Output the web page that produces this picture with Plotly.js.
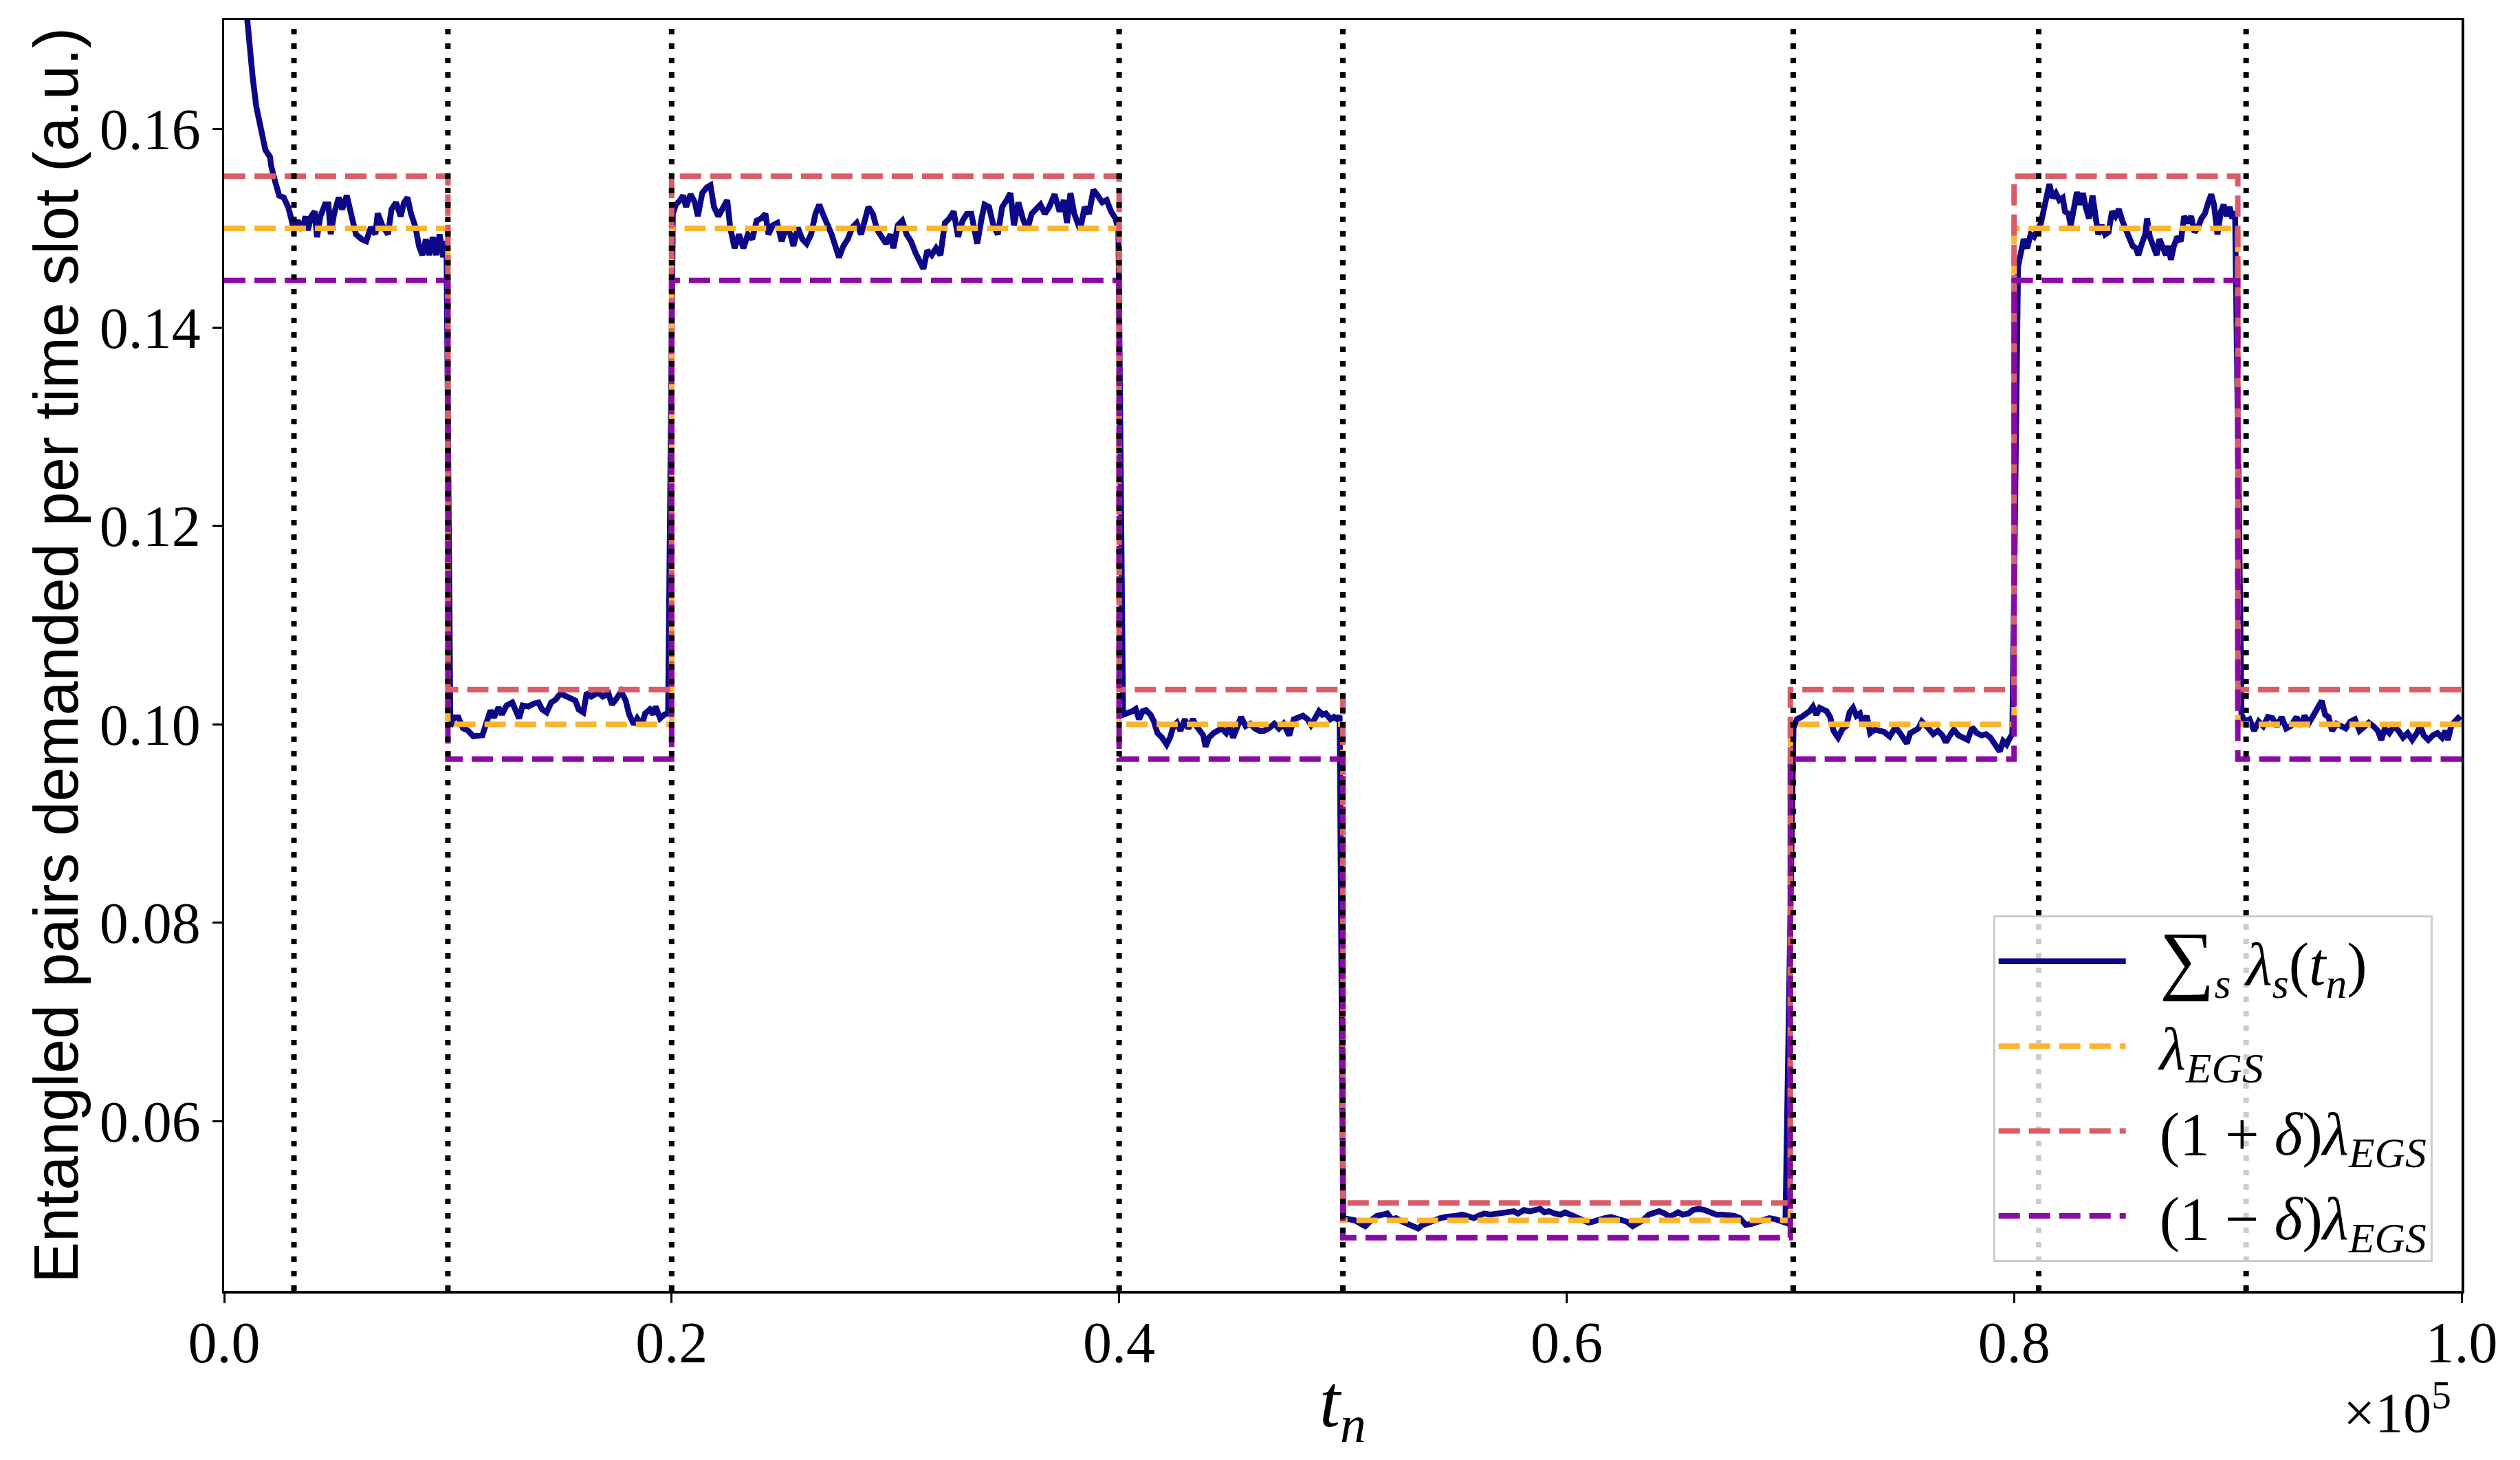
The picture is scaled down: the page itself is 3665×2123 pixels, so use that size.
<!DOCTYPE html>
<html>
<head>
<meta charset="utf-8">
<script src="https://cdn.plot.ly/plotly-3.0.1.min.js"></script>
<style>
  html, body { margin: 0; padding: 0; background: #fff; }
  #myPlot { width: 3665px; height: 2123px; }
</style>
</head>
<body>
<div id="myPlot"></div>
<script>
// segment edges (time slots) and demand levels per segment
const segEdges = [0, 10000, 20000, 40000, 50000, 70000, 80000, 90000, 100000];
const lambdaEGS = [0.15, 0.10, 0.15, 0.10, 0.05, 0.10, 0.15, 0.10, 0.10];
const lambdaUpper = [0.15525, 0.1035, 0.15525, 0.1035, 0.05175, 0.1035, 0.15525, 0.1035, 0.1035];
const lambdaLower = [0.14475, 0.0965, 0.14475, 0.0965, 0.04825, 0.0965, 0.14475, 0.0965, 0.0965];

// dotted vertical markers
const dotX = [3120, 10000, 20000, 40000, 50000, 70130, 81100, 90370];

// sum_s lambda_s(t_n)
const tn = [
  700, 1024, 1127, 1280, 1434, 1639, 1844, 2049, 2100, 2254, 2459, 2663, 2868, 2971, 3124, 3278, 3483, 3637, 3739, 3893,
  4046, 4149, 4302, 4507, 4661, 4763, 4917, 5122, 5276, 5480, 5685, 5890, 6146, 6351, 6556, 6761, 6863, 7068, 7324, 7478,
  7683, 7888, 8041, 8195, 8349, 8554, 8707, 8861, 9015, 9168, 9322, 9476, 9629, 9783, 9937,
  10111, 10265, 10470, 10674, 10879, 11135, 11391, 11545, 11699, 11904, 12057, 12262, 12416, 12621, 12877, 13030, 13184,
  13338, 13594, 13850, 14055, 14209, 14413, 14618, 14823, 15028, 15233, 15489, 15694, 15848, 16053, 16206, 16411, 16718,
  16923, 17179, 17333, 17538, 17743, 17948, 18101, 18306, 18460, 18665, 18818, 19023, 19177, 19279, 19484, 19689, 19843,
  20054, 20185, 20383, 20514, 20645, 20843, 21040, 21171, 21368, 21566, 21736, 21894, 22091, 22288, 22485, 22617, 22814,
  23011, 23208, 23406, 23603, 23800, 23997, 24194, 24326, 24523, 24720, 24917, 25114, 25312, 25443, 25640, 25837, 26034,
  26231, 26429, 26600, 26757, 26954, 27152, 27349, 27480, 27677, 27875, 28072, 28269, 28466, 28663, 28795, 28992, 29189,
  29386, 29584, 29781, 29912, 30109, 30306, 30503, 30700, 30898, 31095, 31253, 31424, 31621, 31818, 32015, 32212, 32409,
  32606, 32804, 33001, 33198, 33395, 33658, 33855, 33987, 34184, 34381, 34578, 34776, 34973, 35144, 35301, 35498, 35696,
  35893, 36090, 36287, 36484, 36681, 36879, 37115, 37339, 37536, 37668, 37826, 37997, 38260, 38457, 38654, 38851, 39048,
  39245, 39443, 39640, 39837, 39968,
  40176, 40381, 40586, 40739, 40893, 41047, 41200, 41405, 41559, 41712, 41917, 42122, 42276, 42429, 42583, 42737, 42942,
  43095, 43300, 43454, 43607, 43761, 43864, 44017, 44222, 44427, 44581, 44786, 44939, 45093, 45298, 45451, 45656, 45861,
  46066, 46271, 46476, 46681, 46936, 47141, 47346, 47602, 47807, 48012, 48217, 48422, 48576, 48729, 48934, 49088, 49241,
  49446, 49600, 49754, 49856,
  50016, 50278, 50541, 50804, 51001, 51263, 51526, 51789, 51986, 52183, 52380, 52642, 52905, 53168, 53365, 53562, 53824,
  54087, 54349, 54612, 54809, 55072, 55334, 55597, 55859, 56057, 56319, 56582, 56845, 57107, 57370, 57633, 57830, 58092,
  58355, 58552, 58815, 59012, 59209, 59471, 59734, 59931, 60194, 60456, 60719, 60982, 61179, 61441, 61704, 61967, 62164,
  62426, 62689, 62952, 63149, 63411, 63674, 63937, 64134, 64396, 64593, 64790, 64987, 65185, 65447, 65644, 65907, 66170,
  66432, 66695, 66957, 67220, 67483, 67745, 68008, 68271, 68533, 68796, 69059, 69321, 69584, 69781,
  70139, 70292, 70497, 70702, 70856, 71010, 71163, 71317, 71470, 71624, 71778, 71931, 72136, 72341, 72495, 72648, 72802,
  72956, 73109, 73263, 73417, 73570, 73775, 73980, 74185, 74441, 74697, 74902, 75056, 75209, 75363, 75517, 75722, 75876,
  76029, 76183, 76388, 76593, 76797, 76951, 77105, 77310, 77514, 77719, 77924, 78129, 78334, 78539, 78743, 78948, 79153,
  79358, 79512, 79666, 79819, 79922,
  80177, 80279, 80433, 80587, 80740, 80894, 81048, 81201, 81355, 81478, 81580, 81714, 81867, 82021, 82174, 82277, 82431,
  82533, 82687, 82810, 82943, 83076, 83199, 83353, 83506, 83660, 83762, 83916, 84070, 84223, 84377, 84531, 84684, 84838,
  84992, 85145, 85299, 85453, 85555, 85709, 85862, 85944, 86067, 86221, 86375, 86498, 86631, 86785, 86887, 87010, 87143,
  87297, 87451, 87604, 87758, 87912, 88065, 88219, 88373, 88526, 88680, 88813, 88936, 89090, 89243, 89366, 89499, 89632,
  89755, 89878,
  90165, 90319, 90524, 90728, 90933, 91138, 91343, 91548, 91753, 91958, 92163, 92368, 92624, 92777, 92982, 93187, 93392,
  93597, 93750, 93904, 94058, 94211, 94416, 94621, 94826, 95031, 95236, 95441, 95646, 95851, 96055, 96260, 96414, 96568,
  96772, 96977, 97182, 97387, 97592, 97797, 98002, 98155, 98309, 98514, 98719, 98924, 99129, 99282, 99385, 99538, 99692,
  99846, 99948
];
const demand = [
  0.1790, 0.1709, 0.1681, 0.1651, 0.1623, 0.1600, 0.1579, 0.1572, 0.1563, 0.1549, 0.1533, 0.1531, 0.1521, 0.1512, 0.1498, 0.1508, 0.1498, 0.1512, 0.1498, 0.1512,
  0.1517, 0.1491, 0.1512, 0.1524, 0.1524, 0.1494, 0.1515, 0.1531, 0.1519, 0.1533, 0.1512, 0.1494, 0.1489, 0.1487, 0.1501, 0.1494, 0.1515, 0.1503, 0.1494, 0.1519,
  0.1526, 0.1512, 0.1526, 0.1531, 0.1515, 0.1501, 0.1482, 0.1473, 0.1489, 0.1473, 0.1491, 0.1473, 0.1494, 0.1471, 0.1487,
  0.0998, 0.1007, 0.1007, 0.0996, 0.0994, 0.0988, 0.0989, 0.0989, 0.1000, 0.1014, 0.1007, 0.1017, 0.1010, 0.1019, 0.1022, 0.1014, 0.1006,
  0.1019, 0.1018, 0.1021, 0.1022, 0.1015, 0.1012, 0.1022, 0.1025, 0.1031, 0.1029, 0.1026, 0.1024, 0.1015, 0.1012, 0.1032, 0.1028, 0.1032,
  0.1028, 0.1031, 0.1020, 0.1026, 0.1033, 0.1024, 0.1010, 0.1000, 0.1006, 0.0999, 0.1011, 0.1015, 0.1010, 0.1018, 0.1006, 0.1010, 0.1011,
  0.15146, 0.15238, 0.15284, 0.15330, 0.15215, 0.15342, 0.15261, 0.15122, 0.15354, 0.15411, 0.15434, 0.15215, 0.15122, 0.15192, 0.15284, 0.15007, 0.14799,
  0.14938, 0.14799, 0.14938, 0.14891, 0.15076, 0.15099, 0.15146, 0.14938, 0.15030, 0.15053, 0.14868, 0.15007, 0.14938, 0.14822, 0.15007, 0.14891, 0.14845,
  0.14938, 0.15146, 0.15238, 0.15146, 0.15053, 0.14938, 0.14799, 0.14707, 0.14822, 0.14891, 0.15007, 0.15053, 0.14938, 0.15099, 0.15215, 0.15146, 0.14984,
  0.14914, 0.14845, 0.14938, 0.14799, 0.15030, 0.15076, 0.14938, 0.14868, 0.14753, 0.14660, 0.14591, 0.14776, 0.14730, 0.14799, 0.14730, 0.15053, 0.15099,
  0.15169, 0.14914, 0.15076, 0.15146, 0.15146, 0.14845, 0.15099, 0.15238, 0.15215, 0.15030, 0.14938, 0.15215, 0.15284, 0.15354, 0.15030, 0.15261, 0.15099,
  0.14984, 0.15146, 0.15192, 0.15238, 0.15146, 0.15215, 0.15342, 0.15169, 0.15284, 0.15053, 0.15354, 0.15146, 0.14984, 0.15215, 0.15146, 0.15388, 0.15330,
  0.15261, 0.15284, 0.15169, 0.15099, 0.14984,
  0.10097, 0.10109, 0.10132, 0.10155, 0.10051, 0.10132, 0.10143, 0.10097, 0.10028, 0.09912, 0.09866, 0.09797, 0.09866, 0.09982, 0.10016, 0.09935, 0.10051,
  0.09958, 0.10051, 0.09982, 0.09935, 0.09889, 0.09774, 0.09866, 0.09912, 0.09935, 0.09958, 0.09912, 0.09982, 0.09866, 0.10005, 0.10074, 0.09982, 0.10005,
  0.09958, 0.09935, 0.09935, 0.09958, 0.10005, 0.09958, 0.10005, 0.09889, 0.10051, 0.10074, 0.10086, 0.10051, 0.09993, 0.10051, 0.10132, 0.10097, 0.10109,
  0.10051, 0.10074, 0.10051, 0.10086,
  0.05023, 0.05012, 0.05000, 0.04965, 0.04942, 0.05000, 0.05046, 0.05058, 0.05069, 0.05012, 0.05023, 0.04988, 0.04965, 0.04942, 0.04919, 0.04954, 0.04977,
  0.05012, 0.05023, 0.05035, 0.05046, 0.05046, 0.05058, 0.05046, 0.05023, 0.05046, 0.05069, 0.05058, 0.05069, 0.05069, 0.05081, 0.05092, 0.05069, 0.05104,
  0.05092, 0.05104, 0.05116, 0.05081, 0.05092, 0.05069, 0.05058, 0.05081, 0.05058, 0.05035, 0.05000, 0.04977, 0.04988, 0.05012, 0.05023, 0.05035, 0.05023,
  0.05012, 0.04988, 0.04942, 0.04965, 0.05000, 0.05058, 0.05081, 0.05092, 0.05069, 0.05035, 0.05058, 0.05081, 0.05058, 0.05069, 0.05104, 0.05116, 0.05104,
  0.05081, 0.05058, 0.05058, 0.05058, 0.05046, 0.05023, 0.04954, 0.04965, 0.04988, 0.05012, 0.05023, 0.05012, 0.05000, 0.04977,
  0.09958, 0.10051, 0.10074, 0.10109, 0.10132, 0.10178, 0.10097, 0.10166, 0.10155, 0.10132, 0.10074, 0.09935, 0.09866, 0.09958, 0.09982, 0.10120, 0.10166,
  0.10086, 0.10109, 0.09993, 0.10086, 0.09912, 0.09947, 0.09935, 0.09924, 0.09878, 0.09970, 0.09912, 0.09866, 0.09808, 0.09912, 0.09935, 0.09958, 0.10028,
  0.09982, 0.09958, 0.09901, 0.09935, 0.09889, 0.09820, 0.09878, 0.09947, 0.09889, 0.09866, 0.09843, 0.09970, 0.09912, 0.09889, 0.09901, 0.09866, 0.09797,
  0.09727, 0.09831, 0.09797, 0.09866, 0.09901,
  0.14614, 0.14753, 0.14891, 0.14799, 0.14938, 0.14914, 0.14984, 0.15053, 0.15215, 0.15330, 0.15446, 0.15307, 0.15354, 0.15284, 0.15307, 0.15169, 0.15146,
  0.15030, 0.15215, 0.15365, 0.15238, 0.15354, 0.15215, 0.15099, 0.15330, 0.15122, 0.14938, 0.15030, 0.14938, 0.14961, 0.15169, 0.15122, 0.15192, 0.15076,
  0.14984, 0.14891, 0.14822, 0.14799, 0.14730, 0.14845, 0.14938, 0.15099, 0.14914, 0.14822, 0.14730, 0.14891, 0.14799, 0.14730, 0.14822, 0.14683, 0.14822,
  0.14914, 0.14868, 0.15122, 0.15053, 0.15122, 0.14961, 0.15007, 0.15099, 0.15146, 0.15261, 0.15342, 0.15238, 0.14938, 0.15169, 0.15238, 0.15122, 0.15215,
  0.15099, 0.15169,
  0.10097, 0.10028, 0.10051, 0.09935, 0.10028, 0.09982, 0.10074, 0.10063, 0.09982, 0.10074, 0.09958, 0.09982, 0.10074, 0.09982, 0.10086, 0.10016, 0.10097,
  0.10190, 0.10236, 0.10097, 0.10074, 0.09935, 0.10005, 0.09982, 0.09958, 0.10028, 0.10051, 0.09935, 0.09982, 0.10016, 0.09982, 0.09935, 0.09843, 0.09958,
  0.09912, 0.09982, 0.09935, 0.09866, 0.09912, 0.09843, 0.09912, 0.09982, 0.09889, 0.09843, 0.09889, 0.09912, 0.09866, 0.09935, 0.09843, 0.09982, 0.10028,
  0.10063, 0.10039
];

// axis ticks
const xTickVals = [0, 20000, 40000, 60000, 80000, 100000];
const xTickText = ['0.0', '0.2', '0.4', '0.6', '0.8', '1.0'];
const yTickVals = [0.06, 0.08, 0.10, 0.12, 0.14, 0.16];

const seriesNames = [
  '\u2002<span style="font-size:112px">∑</span><sub><i>s</i></sub> <i>λ<sub>s</sub></i>(<i>t<sub>n</sub></i>)',
  '\u2002<i>λ<sub>EGS</sub></i>',
  '\u2002(1 + <i>δ</i>)<i>λ<sub>EGS</sub></i>',
  '\u2002(1 − <i>δ</i>)<i>λ<sub>EGS</sub></i>'
];

const serif = 'Liberation Serif, DejaVu Serif, serif';
const dashed = '31px,13px';

const data = [
  { x: tn, y: demand, mode: 'lines', name: seriesNames[0], legendgroup: 'a',
    line: { color: '#0d0887', width: 8.5 } },
  { x: segEdges, y: lambdaEGS, mode: 'lines', name: seriesNames[1], legendgroup: 'b',
    line: { color: '#fdb42f', width: 8, dash: dashed, shape: 'hv' } },
  { x: segEdges, y: lambdaUpper, mode: 'lines', name: seriesNames[2], legendgroup: 'c',
    line: { color: '#db5c68', width: 8, dash: dashed, shape: 'hv' } },
  { x: segEdges, y: lambdaLower, mode: 'lines', name: seriesNames[3], legendgroup: 'd',
    line: { color: '#8b0aa5', width: 8, dash: dashed, shape: 'hv' } }
];

const shapes = dotX.map(v => ({
  type: 'line', xref: 'x', yref: 'paper', x0: v, x1: v, y0: 0, y1: 1,
  line: { color: '#000', width: 8, dash: '8px,13px' }
}));

const axisCommon = {
  showline: true, mirror: true, linecolor: '#000', linewidth: 3.5,
  ticks: 'outside', ticklen: 14, tickwidth: 3, tickcolor: '#000',
  showgrid: false, zeroline: false,
  tickfont: { family: serif, size: 84, color: '#000' }
};

const layout = {
  width: 3665, height: 2123,
  paper_bgcolor: '#fff', plot_bgcolor: '#fff',
  margin: { l: 326, r: 85, t: 29, b: 246 },
  showlegend: true,
  xaxis: Object.assign({}, axisCommon, {
    range: [0, 100000], tickvals: xTickVals, ticktext: xTickText, ticklabelstandoff: -14
  }),
  yaxis: Object.assign({}, axisCommon, {
    range: [0.0429, 0.1710], tickvals: yTickVals, tickformat: '.2f'
  }),
  legend: {
    x: 0.987, y: 0.0227, xanchor: 'right', yanchor: 'bottom',
    bgcolor: 'rgba(255,255,255,0.8)', bordercolor: '#cccccc', borderwidth: 3,
    font: { family: serif, size: 88, color: '#000' },
    traceorder: 'grouped', tracegroupgap: 6, itemwidth: 185
  },
  shapes: shapes,
  annotations: [
    { text: 'Entangled pairs demanded per time slot (a.u.)', textangle: -90,
      xref: 'paper', yref: 'paper', x: -0.075, y: 0.5, xanchor: 'center', yanchor: 'middle',
      showarrow: false, font: { family: 'Liberation Sans, Arial, sans-serif', size: 90, color: '#000' } },
    { text: '<i>t</i><sub><i>n</i></sub>',
      xref: 'paper', yref: 'paper', x: 0.5, y: -0.091, xanchor: 'center', yanchor: 'middle',
      showarrow: false, font: { family: serif, size: 108, color: '#000' } },
    { text: '×10<sup>5</sup>',
      xref: 'paper', yref: 'paper', x: 0.996, y: -0.093, xanchor: 'right', yanchor: 'middle',
      showarrow: false, font: { family: serif, size: 82, color: '#000' } }
  ]
};

Plotly.newPlot('myPlot', data, layout, { staticPlot: true });
</script>
</body>
</html>
